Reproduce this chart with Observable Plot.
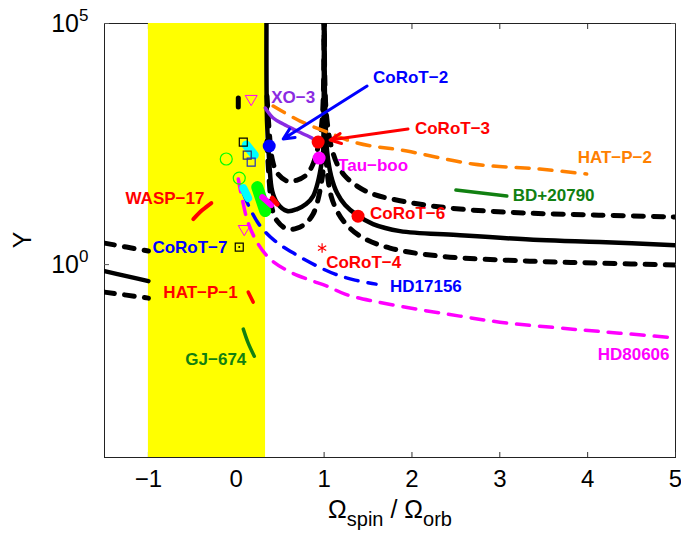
<!DOCTYPE html>
<html><head><meta charset="utf-8">
<script src="https://cdn.jsdelivr.net/npm/d3@7"></script>
<script src="https://cdn.jsdelivr.net/npm/@observablehq/plot@0.6"></script>
<style>body{margin:0;background:#fff}svg{display:block}</style>
</head><body><div id="chart"></div>
<script>
// ---- axes ----
const xTicks = [-1, 0, 1, 2, 3, 4, 5];
const yTicks = [1, 1e5];
const yTickExponents = ["0", "5"];
const bandX1 = -1, bandX2 = 1 / 3;

// ---- black model curves ----
const solidLeftX = [-1.5, -1.25, -1.0];
const solidLeftY = [0.733, 0.577, 0.455];
const solidMidX = [0.346, 0.350, 0.375, 0.409, 0.466, 0.580, 0.693, 0.795, 0.875, 0.932, 0.966, 0.989, 0.997, 0.999];
const solidMidY = [1e6, 948, 140, 33.5, 18.9, 12.9, 14.2, 18.0, 26.4, 54.0, 111, 226, 2470, 1e6];
const solidRightX = [1.001, 1.011, 1.034, 1.080, 1.148, 1.239, 1.375, 1.557, 1.864, 2.511, 3.455, 4.136, 5.0];
const solidRightY = [1e6, 2470, 226, 68.5, 30.4, 17.2, 10.6, 6.92, 4.95, 4.09, 3.22, 2.93, 2.53];

const upperLeftX = [-1.5, -1.25, -1.0];
const upperLeftY = [2.79, 2.31, 1.91];
const upperMidX = [0.350, 0.375, 0.409, 0.466, 0.580, 0.693, 0.795, 0.864, 0.920, 0.966, 0.989, 0.999];
const upperMidY = [3130, 589, 155, 79.1, 54.0, 56.6, 71.9, 111, 226, 647, 2470, 1e6];
const upperRightX = [1.001, 1.011, 1.034, 1.080, 1.148, 1.239, 1.375, 1.557, 2.011, 2.545, 3.307, 4.136, 5.0];
const upperRightY = [1e6, 3980, 948, 288, 122, 68.5, 42.5, 29.0, 18.9, 14.2, 11.7, 10.6, 9.67];

const lowerLeftX = [-1.5, -1.25, -1.0];
const lowerLeftY = [0.269, 0.233, 0.202];
const lowerMidX = [0.350, 0.375, 0.409, 0.466, 0.580, 0.693, 0.795, 0.875, 0.932, 0.966, 0.989, 0.999];
const lowerMidY = [365, 54.0, 14.2, 7.99, 5.45, 5.72, 7.26, 11.2, 22.9, 46.8, 95.8, 1e6];
const lowerRightX = [1.001, 1.011, 1.034, 1.080, 1.148, 1.239, 1.409, 1.75, 2.318, 3.341, 4.136, 5.0];
const lowerRightY = [1e6, 948, 87.1, 26.4, 12.9, 7.26, 3.90, 2.20, 1.50, 1.18, 1.07, 0.977];

// ---- planet tracks ----
const xo3X = [0.330, 0.420, 0.534, 0.693, 0.864];
const xo3Y = [1770, 1095, 822, 589, 421];
const hatp2X = [0.420, 0.727, 1.034, 1.375, 1.943, 2.693, 3.455, 3.989];
const hatp2Y = [1940, 948, 561, 332, 226, 122, 95.8, 75.5];
const hd17156X = [0.080, 0.159, 0.273, 0.443, 0.670, 0.898, 1.125, 1.352, 1.591];
const hd17156Y = [30.4, 14.2, 6.29, 3.07, 1.65, 0.977, 0.635, 0.477, 0.394];
const hd80606X = [0.023, 0.068, 0.136, 0.25, 0.386, 0.614, 0.841, 1.034, 1.239, 1.557, 2.057, 2.545, 3.0, 3.830, 4.364, 4.909];
const hd80606Y = [59.4, 22.9, 7.26, 2.66, 1.30, 0.699, 0.477, 0.358, 0.244, 0.175, 0.119, 0.0855, 0.0641, 0.0459, 0.0379, 0.0313];
const bdX = [2.5, 3.080];
const bdY = [35.1, 26.4];
const wasp17X = [-0.489, -0.386, -0.284];
const wasp17Y = [8.79, 13.5, 18.9];
const hatp1X = [0.136, 0.193];
const hatp1Y = [0.269, 0.167];
const gj674X = [0.080, 0.136, 0.205];
const gj674Y = [0.0459, 0.0235, 0.0126];
const blackBarX = [0.023, 0.023];
const blackBarY = [2850, 1850];
const cyanAX = [0.114, 0.205];
const cyanAY = [301, 187];
const cyanBX = [0.080, 0.136];
const cyanBY = [38.6, 24.0];
const greenBlobX = [0.239, 0.330];
const greenBlobY = [40.5, 12.9];
const magentaBlobX = [0.295, 0.398];
const magentaBlobY = [25.1, 17.2];
const redBlobX = [0.409, 0.466];
const redBlobY = [24.0, 18.0];

// ---- markers ----
const dotX = [0.375, 0.932, 0.943, 1.386];
const dotY = [288, 348, 162, 10.1];
const dotColor = ["#0000ff", "#ff0000", "#ff00ff", "#ff0000"];
const triX = [0.170, 0.091];
const triY = [2715, 5.45];
const sqX = [0.080, 0.125, 0.170, 0.034];
const sqY = [348, 187, 134, 2.31];
const sqColor = ["#000000", "#333366", "#2233bb", "#000000"];
const circX = [-0.114, 0.034];
const circY = [155, 62.3];
const starX = [0.977];
const starY = [2.20];

// ---- arrows ----
const arrowX1 = [1.489, 1.955];
const arrowY1 = [5050, 647];
const arrowX2 = [0.534, 1.068];
const arrowY2 = [402, 383];
const arrowColor = ["#0000ff", "#ff0000"];

// ---- labels ----
const labelText = ["XO−3", "CoRoT−2", "CoRoT−3", "HAT−P−2", "Tau−boo", "BD+20790", "CoRoT−6", "WASP−17", "CoRoT−7", "CoRoT−4", "HD17156", "HAT−P−1", "HD80606", "GJ−674"];
const labelX = [0.398, 1.557, 2.034, 3.886, 1.159, 3.148, 1.523, -1.261, -0.955, 1.023, 1.75, -0.830, 4.114, -0.580];
const labelY = [2850, 7400, 679, 170, 111, 27.7, 11.2, 22.9, 2.31, 1.13, 0.358, 0.269, 0.0139, 0.0109];
const labelColor = ["#8a2be2", "#0000ff", "#ff0000", "#ff8000", "#ff00ff", "#118011", "#ff0000", "#ff0000", "#0000ff", "#ff0000", "#0000ff", "#ff0000", "#ff00ff", "#118011"];

const pts = (xs, ys) => xs.map((x, i) => ({x, y: ys[i]}));
const tri = {draw(ctx, size) { const s = Math.sqrt(size / Math.PI); ctx.moveTo(-s, -0.6 * s); ctx.lineTo(s, -0.6 * s); ctx.lineTo(0, 1.1 * s); ctx.closePath(); }};

const blackSolid = {stroke: "black", strokeWidth: 4.5, curve: "catmull-rom", clip: true};
const blackDash = {stroke: "black", strokeWidth: 5, strokeDasharray: "10,10", curve: "catmull-rom", clip: true};
const colDash = (c) => ({stroke: c, strokeWidth: 3.5, strokeDasharray: "13,10", curve: "catmull-rom", clip: true});
const seg = (c, w) => ({stroke: c, strokeWidth: w, strokeLinecap: "round", curve: "catmull-rom", clip: true});

const labels = labelText.map((t, i) => ({t, x: labelX[i], y: labelY[i], c: labelColor[i]}));
const dots = dotX.map((x, i) => ({x, y: dotY[i], c: dotColor[i]}));
const squares = sqX.map((x, i) => ({x, y: sqY[i], c: sqColor[i]}));
const arrows = arrowX1.map((x1, i) => ({x1, y1: arrowY1[i], x2: arrowX2[i], y2: arrowY2[i], c: arrowColor[i]}));

const svg = Plot.plot({
  width: 681, height: 537,
  marginLeft: 104, marginRight: 6, marginTop: 23, marginBottom: 80,
  style: {fontFamily: "'Liberation Sans', Arial, sans-serif", background: "white", color: "black"},
  x: {domain: [-1.5, 5], label: null},
  y: {type: "log", domain: [1e-4, 1e5], label: null},
  color: {type: "identity"},
  marks: [
    Plot.frame({stroke: "#222", strokeWidth: 1}),
    Plot.axisX({ticks: xTicks, anchor: "bottom", tickSize: -5, tickFormat: () => "", label: null, stroke: "#333"}),
    Plot.axisX({ticks: xTicks, anchor: "top", tickSize: -5, tickFormat: () => "", label: null, stroke: "#333"}),
    Plot.axisX({ticks: xTicks, anchor: "bottom", tickSize: 0, tickPadding: 12, fontSize: 24, label: null,
      tickFormat: d => d < 0 ? "\u2212" + (-d) : String(d)}),
    Plot.axisY({ticks: yTicks, anchor: "left", tickSize: -5, tickFormat: () => "", label: null, stroke: "#555"}),
    Plot.axisY({ticks: yTicks, anchor: "right", tickSize: -5, tickFormat: () => "", label: null, stroke: "#555"}),
    Plot.axisY({ticks: yTicks, anchor: "left", tickSize: 0, tickPadding: 16, fontSize: 25, label: null,
      tickFormat: d => "10^" + yTickExponents[yTicks.indexOf(d)]}),
    Plot.rect([{x1: bandX1, x2: bandX2}], {x1: "x1", x2: "x2", fill: "#ffff00"}),
    Plot.line(pts(solidLeftX, solidLeftY), {x: "x", y: "y", ...blackSolid}),
    Plot.line(pts(solidMidX, solidMidY), {x: "x", y: "y", ...blackSolid}),
    Plot.line(pts(solidRightX, solidRightY), {x: "x", y: "y", ...blackSolid}),
    Plot.line(pts(upperLeftX, upperLeftY), {x: "x", y: "y", ...blackDash}),
    Plot.line(pts(upperMidX, upperMidY), {x: "x", y: "y", ...blackDash}),
    Plot.line(pts(upperRightX, upperRightY), {x: "x", y: "y", ...blackDash}),
    Plot.line(pts(lowerLeftX, lowerLeftY), {x: "x", y: "y", ...blackDash}),
    Plot.line(pts(lowerMidX, lowerMidY), {x: "x", y: "y", ...blackDash}),
    Plot.line(pts(lowerRightX, lowerRightY), {x: "x", y: "y", ...blackDash}),
    Plot.line(pts(hatp2X, hatp2Y), {x: "x", y: "y", ...colDash("#ff8000")}),
    Plot.line(pts(hd17156X, hd17156Y), {x: "x", y: "y", ...colDash("#0000ff")}),
    Plot.line(pts(hd80606X, hd80606Y), {x: "x", y: "y", ...colDash("#ff00ff")}),
    Plot.line(pts(xo3X, xo3Y), {x: "x", y: "y", ...seg("#8a2be2", 3.5)}),
    Plot.line(pts(bdX, bdY), {x: "x", y: "y", ...seg("#118011", 3.5)}),
    Plot.line(pts(wasp17X, wasp17Y), {x: "x", y: "y", ...seg("#ff0000", 4)}),
    Plot.line(pts(hatp1X, hatp1Y), {x: "x", y: "y", ...seg("#ff0000", 3.5)}),
    Plot.line(pts(gj674X, gj674Y), {x: "x", y: "y", ...seg("#118011", 3.5)}),
    Plot.line(pts(blackBarX, blackBarY), {x: "x", y: "y", stroke: "black", strokeWidth: 5}),
    Plot.line(pts(cyanAX, cyanAY), {x: "x", y: "y", ...seg("#00ffff", 9)}),
    Plot.line(pts(cyanBX, cyanBY), {x: "x", y: "y", ...seg("#00ffff", 8)}),
    Plot.line(pts(greenBlobX, greenBlobY), {x: "x", y: "y", ...seg("#00ff00", 12)}),
    Plot.line(pts(magentaBlobX, magentaBlobY), {x: "x", y: "y", ...seg("#ff00ff", 6)}),
    Plot.line(pts(redBlobX, redBlobY), {x: "x", y: "y", ...seg("#ff0000", 5)}),
    Plot.dot(pts(triX, triY), {x: "x", y: "y", symbol: tri, r: 6, stroke: "#ff00ff", strokeWidth: 1, fill: "none"}),
    Plot.dot(squares, {x: "x", y: "y", symbol: "square", r: 4.5, stroke: "c", strokeWidth: 1.2, fill: "none"}),
    Plot.dot([squares[3]], {x: "x", y: "y", r: 1, fill: "black"}),
    Plot.dot(pts(circX, circY), {x: "x", y: "y", r: 6, stroke: "#00ff00", strokeWidth: 1.2, fill: "none"}),
    Plot.dot(pts(starX, starY), {x: "x", y: "y", symbol: "asterisk", r: 4.5, stroke: "#ff0000", strokeWidth: 1.2}),
    Plot.dot(dots, {x: "x", y: "y", r: 6.5, fill: "c", stroke: "none"}),
    Plot.arrow(arrows, {x1: "x1", y1: "y1", x2: "x2", y2: "y2", stroke: "c", strokeWidth: 3, headLength: 6, headAngle: 50}),
    Plot.text(labels, {x: "x", y: "y", text: "t", fill: "c", textAnchor: "start", fontSize: 17, fontWeight: "bold"})
  ]
});

const s = d3.select(svg);
s.selectAll('g[aria-label="y-axis tick label"] text').each(function () {
  const t = d3.select(this);
  const parts = t.text().split("^");
  t.text("");
  t.append("tspan").text(parts[0]);
  t.append("tspan").attr("dy", "-0.6em").attr("font-size", "0.68em").text(parts[1]);
});
const xl = s.append("text").attr("x", 390).attr("y", 518).attr("text-anchor", "middle")
  .attr("font-size", 25).attr("fill", "black");
xl.append("tspan").text("Ω");
xl.append("tspan").attr("font-size", 20).attr("dy", 8).text("spin");
xl.append("tspan").attr("dy", -8).text(" / Ω");
xl.append("tspan").attr("font-size", 20).attr("dy", 8).text("orb");
s.append("text").attr("transform", "translate(31,240) rotate(-90)").attr("text-anchor", "middle")
  .attr("font-size", 25).attr("fill", "black").text("Y");

document.getElementById("chart").appendChild(svg);
</script>
</body></html>
